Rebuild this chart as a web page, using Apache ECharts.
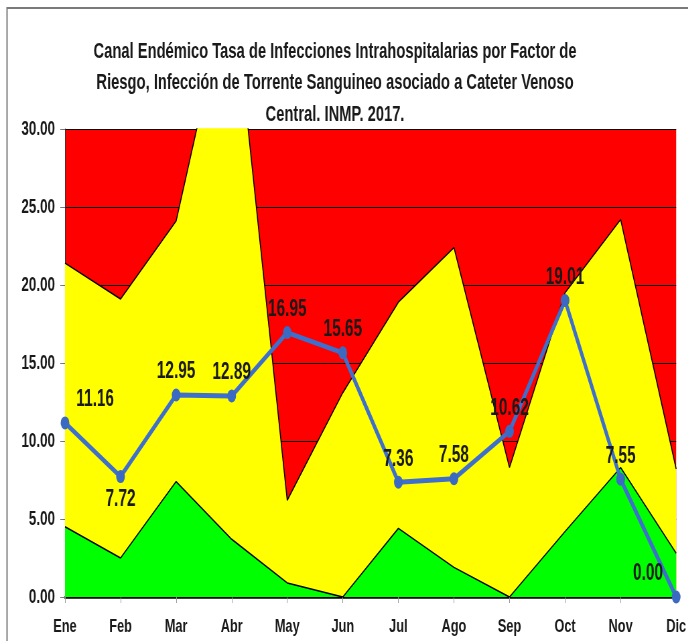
<!DOCTYPE html>
<html>
<head>
<meta charset="utf-8">
<title>Canal Endémico IHH - CVC 2017</title>
<script src="https://cdn.jsdelivr.net/npm/echarts@6/dist/echarts.min.js"></script>
<style>
  html, body { margin: 0; padding: 0; background: #fff; overflow: hidden; width: 688px; height: 641px; }
  /* the chart is drawn wide and squeezed horizontally to get the condensed look */
  #chart { width: 1027px; height: 641px; transform: scaleX(0.67); transform-origin: 0 0; }
</style>
</head>
<body>
<div id="chart"></div>
<script>
// Meses del año
const meses = ['Ene', 'Feb', 'Mar', 'Abr', 'May', 'Jun', 'Jul', 'Ago', 'Sep', 'Oct', 'Nov', 'Dic'];
// Límite inferior del canal (zona de éxito, verde)
const zonaExito = [4.5, 2.5, 7.4, 3.7, 0.9, 0.0, 4.4, 1.9, 0.0, 4.2, 8.3, 2.8];
// Límite superior del canal (zona de seguridad, amarillo); por encima, zona epidémica (rojo)
const zonaSeguridad = [21.4, 19.1, 24.1, 40.0, 6.2, 13.1, 18.9, 22.4, 8.3, 19.5, 24.2, 8.2];
// Tasa observada 2017
const tasa2017 = [11.16, 7.72, 12.95, 12.89, 16.95, 15.65, 7.36, 7.58, 10.62, 19.01, 7.55, 0.00];
// Escala del eje Y
const ejeY = { min: 0, max: 30, paso: 5 };

const FONT = "'Liberation Sans', Arial, sans-serif";

const puntos = tasa2017.map((v, i) => {
  const p = { value: v };
  if (i === 0) p.label = { offset: [45, 0] };
  if (i === 1) p.label = { position: 'bottom' };
  if (i === meses.length - 1) p.label = { offset: [-42, 0] };
  return p;
});

const chart = echarts.init(document.getElementById('chart'));
chart.setOption({
  animation: false,
  backgroundColor: '#ffffff',
  title: {
    text: 'Canal Endémico Tasa de Infecciones Intrahospitalarias por Factor de\nRiesgo, Infección de Torrente Sanguineo asociado a Cateter Venoso\nCentral. INMP. 2017.',
    left: 495,
    top: 31,
    textAlign: 'center',
    textStyle: { fontFamily: FONT, fontWeight: 'bold', fontSize: 22, lineHeight: 31.5, color: '#1a1a1a' }
  },
  graphic: [{
    type: 'rect',
    shape: { x: 10.5, y: 8, width: 1100, height: 700 },
    style: { fill: 'none', stroke: '#7a7a7a', lineWidth: 2 },
    silent: true
  }],
  grid: {
    left: 97, right: 16.6, top: 129, bottom: 44,
    show: true, backgroundColor: '#ff0000', borderWidth: 0
  },
  xAxis: {
    type: 'category',
    data: meses,
    boundaryGap: false,
    axisLine: { show: true, lineStyle: { color: '#000', width: 2.5 } },
    axisTick: { show: true, length: 6, lineStyle: { color: '#999' } },
    axisLabel: { fontFamily: FONT, fontWeight: 'bold', fontSize: 19, color: '#1a1a1a', margin: 20 },
    splitLine: { show: false }
  },
  yAxis: {
    type: 'value',
    min: ejeY.min, max: ejeY.max, interval: ejeY.paso,
    axisLine: { show: true, lineStyle: { color: '#333', width: 1 } },
    axisTick: { show: true, length: 7, lineStyle: { color: '#777' } },
    axisLabel: {
      fontFamily: FONT, fontWeight: 'bold', fontSize: 20, color: '#1a1a1a', margin: 15,
      formatter: v => v.toFixed(2)
    },
    splitLine: { show: true, lineStyle: { color: '#000', width: 1 } }
  },
  series: [
    {
      name: 'Zona de seguridad',
      type: 'line',
      data: zonaSeguridad,
      symbol: 'none',
      z: 2,
      lineStyle: { color: '#000', width: 1.5 },
      areaStyle: { color: '#ffff00', opacity: 1 }
    },
    {
      name: 'Zona de éxito',
      type: 'line',
      data: zonaExito,
      symbol: 'none',
      z: 3,
      lineStyle: { color: '#000', width: 1.5 },
      areaStyle: { color: '#00ff00', opacity: 1 }
    },
    {
      name: 'Tasa 2017',
      type: 'line',
      data: puntos,
      z: 5,
      symbol: 'circle',
      symbolSize: 13,
      lineStyle: { color: '#3e6fcd', width: 5 },
      itemStyle: { color: '#3a6ac2' },
      label: {
        show: true,
        position: 'top',
        fontFamily: FONT,
        fontWeight: 'bold',
        fontSize: 23,
        color: '#1a1a1a',
        formatter: p => p.value.toFixed(2)
      }
    }
  ]
});
</script>
</body>
</html>
